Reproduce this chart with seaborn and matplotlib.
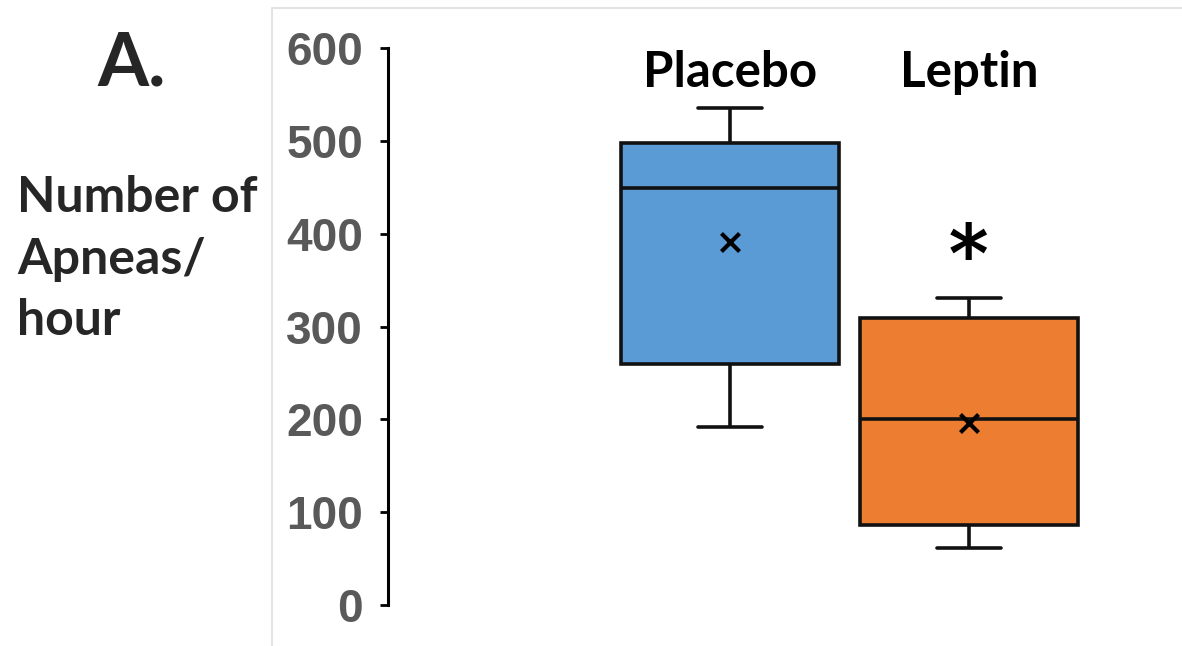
import numpy as np
import pandas as pd
import matplotlib
matplotlib.use("Agg")
import matplotlib.pyplot as plt
from matplotlib.lines import Line2D
import seaborn as sns

# --- data (five-number summaries) ---
groups = ["Placebo", "Leptin"]
placebo_vals = [192, 260, 449, 498, 535]   # min, q1, median, q3, max
leptin_vals = [61, 86, 200, 309, 331]
mean_vals = [391, 196]
y_ticks = [0, 100, 200, 300, 400, 500, 600]

box_colors = ["#5B9BD5", "#ED7D31"]

df = pd.DataFrame({
    "group": ["Placebo"] * len(placebo_vals) + ["Leptin"] * len(leptin_vals),
    "value": placebo_vals + leptin_vals,
})

sns.set_theme(style="white")
plt.rcParams['font.family'] = ['Lato', 'DejaVu Sans']
plt.rcParams['font.weight'] = 'bold'

fig = plt.figure(figsize=(11.82, 6.46), dpi=100)
ax = fig.add_axes([388 / 1182, 41 / 646, 1 - 388 / 1182, 557 / 646])

sns.boxplot(data=df, x="group", y="value", hue="group", order=groups,
            palette=box_colors, saturation=1, width=0.91, whis=(0, 100),
            linewidth=2.6, linecolor="#111111", capwidths=0.27, legend=False, ax=ax)

sns.stripplot(x=groups, y=mean_vals, order=groups, marker="x", color="black",
              s=13, linewidth=3, jitter=False, zorder=10, ax=ax)

ax.set_xlim(-1.43, -1.43 + 794 / 239)
ax.set_ylim(0, 600)
ax.set_yticks(y_ticks)
ax.set_xticks([])
ax.set_xlabel("")
ax.set_ylabel("")

for s in ["top", "right", "bottom"]:
    ax.spines[s].set_visible(False)
ax.spines["left"].set_color("black")
ax.spines["left"].set_linewidth(2.2)
ax.tick_params(axis="y", left=True, length=6, width=2, color="black",
               pad=12, labelsize=33, labelcolor="#595959")
for lbl in ax.get_yticklabels():
    lbl.set_fontfamily("Liberation Sans")
    lbl.set_fontweight("bold")

# group labels above boxes
for i, g in enumerate(groups):
    ax.text(i, 558, g, ha="center", va="baseline", fontsize=35.5,
            fontweight="bold", color="black")

# significance mark
ax.text(1, 366, "*", ha="center", va="center", fontsize=68,
        fontweight="normal", color="black", family="Inter")

fig.text(17 / 1182, 1 - 259 / 646, "Number of\nApneas/\nhour", ha="left",
         va="center", fontsize=36, fontweight="bold", linespacing=1.45)
fig.text(132 / 1182, 1 - 85 / 646, "A.", ha="center", va="baseline",
         fontsize=53, fontweight="bold")

# faint frame around panel
fig.add_artist(Line2D([272 / 1182, 272 / 1182], [0, 1 - 8 / 646],
                      transform=fig.transFigure, color="#e3e3e3", lw=1.5))
fig.add_artist(Line2D([272 / 1182, 1], [1 - 8 / 646, 1 - 8 / 646],
                      transform=fig.transFigure, color="#e3e3e3", lw=1.5))

fig.savefig("out.png", dpi=100, facecolor="white")
